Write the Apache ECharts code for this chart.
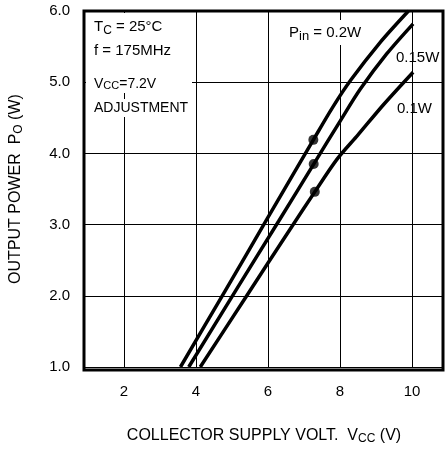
<!DOCTYPE html>
<html><head><meta charset="utf-8">
<script src="https://cdn.jsdelivr.net/npm/echarts@6/dist/echarts.min.js"></script>
<style>html,body{margin:0;padding:0;background:#fff}#c{width:448px;height:450px}</style>
</head><body><div id="c"></div>
<script>
const xTicks = [2, 4, 6, 8, 10];
const yTicks = [1, 2, 3, 4, 5, 6];
const pin02 = [[3.57, 1.0], [4.8, 2.06], [6.0, 3.1], [7.26, 4.19], [7.8, 4.65], [8.3, 5.03], [9.1, 5.55], [9.9, 6.0]];
const pin015 = [[3.8, 1.0], [5.1, 2.07], [6.3, 3.05], [7.27, 3.85], [8.0, 4.45], [8.56, 4.9], [9.3, 5.4], [10.03, 5.82]];
const pin01 = [[4.12, 1.0], [5.37, 1.97], [6.66, 2.97], [7.3, 3.46], [7.92, 3.92], [8.5, 4.26], [9.2, 4.68], [10.03, 5.14]];
const dots = [[7.26, 4.19], [7.27, 3.85], [7.3, 3.46]];

const font = 'Liberation Sans, Arial, sans-serif';
const lineSeries = (d) => ({type: 'line', data: d, smooth: 0.3, symbol: 'none', lineStyle: {color: '#000', width: 3.5}, z: 3});
const chart = echarts.init(document.getElementById('c'), null, {renderer: 'canvas'});
chart.setOption({
  animation: false,
  grid: {left: 84, right: 5, top: 11, bottom: 80},
  xAxis: {
    type: 'value', min: 0.92, max: 10.86,
    name: 'COLLECTOR SUPPLY VOLT.  {m|V}{s|CC}{m| (V)}', nameLocation: 'middle', nameGap: 60,
    nameTextStyle: {color: '#000', fontFamily: font, fontSize: 16,
      rich: {m: {fontSize: 16, fontFamily: font, color: '#000'}, s: {fontSize: 12, fontFamily: font, color: '#000', padding: [6, 0, 0, 0]}}},
    axisLine: {show: false},
    axisTick: {show: false, customValues: xTicks},
    axisLabel: {customValues: xTicks, color: '#000', fontFamily: font, fontSize: 15, margin: 17},
    splitLine: {show: true, lineStyle: {color: '#000', width: 1}}
  },
  yAxis: {
    type: 'value', min: 1, max: 6, interval: 1,
    name: 'OUTPUT POWER  {m|P}{s|O}{m| (W)}', nameLocation: 'middle', nameGap: 60,
    nameTextStyle: {color: '#000', fontFamily: font, fontSize: 16,
      rich: {m: {fontSize: 16, fontFamily: font, color: '#000'}, s: {fontSize: 12, fontFamily: font, color: '#000', padding: [6, 0, 0, 0]}}},
    axisLine: {show: false},
    axisTick: {show: false, customValues: yTicks},
    axisLabel: {formatter: v => v.toFixed(1), color: '#000', fontFamily: font, fontSize: 15, margin: 15},
    splitLine: {show: true, lineStyle: {color: '#000', width: 1}}
  },
  series: [
    lineSeries(pin02), lineSeries(pin015), lineSeries(pin01),
    {type: 'scatter', data: dots, symbolSize: 10, itemStyle: {color: '#000'}, z: 4}
  ],
  graphic: [
    {type: 'rect', shape: {x: 86, y: 13, width: 106, height: 80}, style: {fill: '#fff'}, z: 5},
    {type: 'rect', shape: {x: 84, y: 11, width: 359, height: 359}, style: {fill: 'none', stroke: '#000', lineWidth: 3}, z: 10},
    {type: 'text', left: 94, top: 19, z: 6, style: {text: '{m|T}{s|C}{m| = 25°C}', fill: '#000', rich: {m: {fontSize: 15, fontFamily: font}, s: {fontSize: 12, fontFamily: font, padding: [8, 0, 0, 0]}}}},
    {type: 'text', left: 94, top: 43, z: 6, style: {text: 'f = 175MHz', fill: '#000', fontSize: 15, fontFamily: font}},
    {type: 'text', left: 94, top: 76, z: 6, style: {text: '{m|V}{s|CC}{m|=7.2V}', fill: '#000', backgroundColor: '#fff', padding: [1, 2, 1, 0], rich: {m: {fontSize: 14, fontFamily: font}, s: {fontSize: 11, fontFamily: font, padding: [3, 0, 0, 0]}}}},
    {type: 'text', left: 93, top: 99, z: 6, style: {text: 'ADJUSTMENT', fill: '#000', fontSize: 14, fontFamily: font, backgroundColor: '#fff', padding: [2, 1, 2, 1]}},
    {type: 'text', left: 288, top: 20, z: 6, style: {text: '{m|P}{s|in}{m| = 0.2W}', fill: '#000', backgroundColor: '#fff', padding: [2, 1, 2, 1], rich: {m: {fontSize: 15, fontFamily: font}, s: {fontSize: 13, fontFamily: font, padding: [8, 0, 0, 0]}}}},
    {type: 'text', left: 396, top: 50, z: 6, style: {text: '0.15W', fill: '#000', fontSize: 15, fontFamily: font}},
    {type: 'text', left: 397, top: 101, z: 6, style: {text: '0.1W', fill: '#000', fontSize: 15, fontFamily: font}}
  ]
});
</script></body></html>
